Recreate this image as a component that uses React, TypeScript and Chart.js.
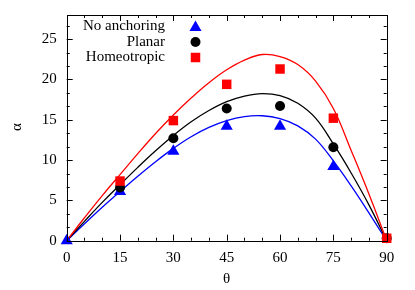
import React, { useEffect, useRef } from "react";
import { Chart, registerables } from "chart.js";

Chart.register(...registerables);

// ---- data ----
const THETA_PTS = [0, 15, 30, 45, 60, 75, 90];
const NOANCH_PTS = [0, 6.1, 11.1, 14.2, 14.2, 9.2, null];
const PLANAR_PTS = [null, 6.6, 12.7, 16.4, 16.7, 11.6, 0.3];
const HOMEO_PTS = [null, 7.4, 14.9, 19.4, 21.3, 15.2, 0.3];

const THETA_CURVE = [0, 5, 10, 15, 20, 25, 30, 35, 40, 45, 50, 55, 60, 65, 70, 75, 80, 85, 90];
const NOANCH_CURVE = [0, 2.1, 4.15, 6.1, 8.0, 9.8, 11.45, 12.9, 14.05, 14.9, 15.4, 15.5, 15.15, 14.25, 12.6, 9.9, 6.8, 3.45, 0];
const PLANAR_CURVE = [0, 2.4, 4.75, 6.95, 9.1, 11.15, 13.05, 14.75, 16.15, 17.25, 17.95, 18.25, 18.0, 17.05, 15.2, 12.0, 8.4, 4.45, 0];
const HOMEO_CURVE = [0, 2.85, 5.6, 8.2, 10.8, 13.3, 15.6, 17.7, 19.6, 21.2, 22.4, 23.1, 22.85, 21.85, 19.8, 16.4, 11.2, 5.8, 0];

const X_TICKS = [0, 15, 30, 45, 60, 75, 90];
const Y_TICKS = [0, 5, 10, 15, 20, 25];
const LEGEND_LABELS = ["No anchoring", "Planar", "Homeotropic"];
const X_TITLE = "θ";
const Y_TITLE = "α";

const BLUE = "#0000ff";
const BLACK = "#000000";
const RED = "#ff0000";
const FONT = '15px "Liberation Serif", "DejaVu Serif", serif';

const toXY = (xs: number[], ys: (number | null)[]) =>
  xs.map((x, i) => ({ x, y: ys[i] })).filter((p) => p.y !== null) as { x: number; y: number }[];

function drawMarker(ctx: CanvasRenderingContext2D, kind: string, x: number, y: number, color: string) {
  ctx.save();
  ctx.fillStyle = color;
  ctx.beginPath();
  if (kind === "triangle") {
    const r = 7;
    ctx.moveTo(x, y - r);
    ctx.lineTo(x + r * Math.sin((2 * Math.PI) / 3), y - r * Math.cos((2 * Math.PI) / 3));
    ctx.lineTo(x + r * Math.sin((4 * Math.PI) / 3), y - r * Math.cos((4 * Math.PI) / 3));
    ctx.closePath();
  } else if (kind === "circle") {
    ctx.arc(x, y, 5, 0, Math.PI * 2);
  } else {
    ctx.rect(x - 4.75, y - 4.75, 9.5, 9.5);
  }
  ctx.fill();
  ctx.restore();
}

const framePlugin = {
  id: "frame",
  afterDraw(chart: any) {
    const { ctx, chartArea: a, scales } = chart;
    const xs = scales.x;
    const ys = scales.y;
    ctx.save();
    ctx.strokeStyle = "#000";
    ctx.lineWidth = 1;
    const major = 6;
    const minor = 3;
    ctx.beginPath();
    for (let v = 0; v <= 90 + 1e-6; v += 5) {
      const px = Math.round(xs.getPixelForValue(v)) + 0.5;
      const len = v % 15 === 0 ? major : minor;
      ctx.moveTo(px, a.bottom);
      ctx.lineTo(px, a.bottom - len);
      ctx.moveTo(px, a.top);
      ctx.lineTo(px, a.top + len);
    }
    for (let k = 0; k * (5 / 3) <= 28 + 1e-6; k++) {
      const v = k * (5 / 3);
      const py = Math.round(ys.getPixelForValue(v)) + 0.5;
      const len = k % 3 === 0 ? major : minor;
      ctx.moveTo(a.left, py);
      ctx.lineTo(a.left + len, py);
      ctx.moveTo(a.right, py);
      ctx.lineTo(a.right - len, py);
    }
    ctx.stroke();
    ctx.strokeRect(Math.round(a.left) + 0.5, Math.round(a.top) + 0.5, Math.round(a.right - a.left), Math.round(a.bottom - a.top));
    ctx.fillStyle = "#000";
    ctx.font = FONT;
    ctx.textAlign = "center";
    ctx.textBaseline = "middle";
    ctx.fillText(X_TITLE, 226.5, 279);
    ctx.save();
    ctx.translate(17, 127);
    ctx.rotate(-Math.PI / 2);
    ctx.fillText(Y_TITLE, 0, 0);
    ctx.restore();
    const kinds = ["triangle", "circle", "square"];
    const colors = [BLUE, BLACK, RED];
    const rows = [26.5, 42, 57.5];
    ctx.textAlign = "right";
    for (let i = 0; i < 3; i++) {
      ctx.fillStyle = "#000";
      ctx.fillText(LEGEND_LABELS[i], 165, rows[i]);
      drawMarker(ctx, kinds[i], 195.5, rows[i] + (i === 0 ? 1 : 0), colors[i]);
    }
    ctx.restore();
  },
};

export default function App() {
  const ref = useRef<HTMLCanvasElement>(null);
  useEffect(() => {
    if (!ref.current) return;
    const curve = (data: any, color: string) => ({
      type: "line" as const,
      data,
      borderColor: color,
      borderWidth: 1.3,
      pointRadius: 0,
      showLine: true,
      fill: false,
      clip: 4,
      tension: 0.4,
    });
    const pts = (data: any, style: string, r: number, color: string) => ({
      data,
      pointStyle: style,
      pointRadius: r,
      backgroundColor: color,
      borderWidth: 0,
      clip: false,
    });
    const chart = new Chart(ref.current, {
      type: "scatter",
      data: {
        datasets: [
          pts(toXY(THETA_PTS, HOMEO_PTS), "rect", 6.7, RED),
          pts(toXY(THETA_PTS, PLANAR_PTS), "circle", 5, BLACK),
          pts(toXY(THETA_PTS, NOANCH_PTS), "triangle", 7, BLUE),
          curve(toXY(THETA_CURVE, HOMEO_CURVE), RED),
          curve(toXY(THETA_CURVE, PLANAR_CURVE), BLACK),
          curve(toXY(THETA_CURVE, NOANCH_CURVE), BLUE),
        ] as any,
      },
      options: {
        animation: false,
        responsive: false,
        events: [],
        layout: { padding: { left: 0, top: 15, right: 28.3, bottom: 0 } },
        plugins: { legend: { display: false }, tooltip: { enabled: false } },
        scales: {
          x: {
            type: "linear",
            min: 0,
            max: 90,
            grid: { display: false, drawTicks: false },
            border: { display: false },
            afterBuildTicks: (s: any) => {
              s.ticks = X_TICKS.map((v) => ({ value: v }));
            },
            afterFit: (s: any) => {
              s.height = 49.3;
              s.paddingLeft = 0;
              s.paddingRight = 0;
            },
            ticks: { color: "#000", font: { family: '"Liberation Serif", serif', size: 15 }, padding: 8, maxRotation: 0 },
          },
          y: {
            type: "linear",
            min: 0,
            max: 28,
            grid: { display: false, drawTicks: false },
            border: { display: false },
            afterBuildTicks: (s: any) => {
              s.ticks = Y_TICKS.map((v) => ({ value: v }));
            },
            afterFit: (s: any) => {
              s.width = 66.7;
              s.paddingTop = 0;
              s.paddingBottom = 0;
            },
            ticks: { color: "#000", font: { family: '"Liberation Serif", serif', size: 15 }, padding: 10 },
          },
        },
      },
      plugins: [framePlugin],
    });
    return () => chart.destroy();
  }, []);
  return (
    <div style={{ position: "fixed", left: 0, top: 0, width: 415, height: 290, background: "#fff" }}>
      <canvas ref={ref} width={415} height={290} style={{ width: 415, height: 290, display: "block" }} />
    </div>
  );
}
